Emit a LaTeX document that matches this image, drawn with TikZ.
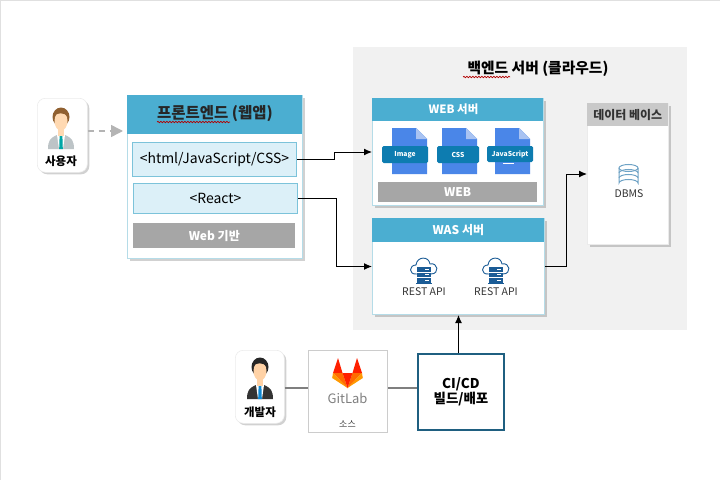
\documentclass[tikz,border=0pt]{standalone}
\usepackage{fontspec}
\setmainfont{Noto Sans CJK KR}
\usetikzlibrary{arrows.meta,shadows,decorations.pathmorphing}
\newcommand{\px}{0.25mm}
\newcommand{\pxfont}[1]{\pgfmathsetmacro\pxsize{#1*0.71}\fontsize{\pxsize}{\pxsize}\selectfont}
\definecolor{panelgray}{HTML}{F1F1F1}
\definecolor{headblue}{HTML}{4BAED1}
\definecolor{cardline}{HTML}{B5DCE8}
\definecolor{paleblue}{HTML}{DCF0F8}
\definecolor{paleline}{HTML}{7CC3DA}
\definecolor{bargray}{HTML}{A6A6A6}
\definecolor{dbhead}{HTML}{C9C9C9}
\definecolor{fileblue}{HTML}{4A86E8}
\definecolor{filefold}{HTML}{A9C3F2}
\definecolor{bandblue}{HTML}{0D7CB0}
\definecolor{serverblue}{HTML}{1B5C96}
\definecolor{dbline}{HTML}{6FA3C6}
\definecolor{citeal}{HTML}{1F5F80}
\definecolor{linegray}{HTML}{7F7F7F}
\definecolor{arrowgray}{HTML}{B4B4B4}
\tikzset{
  softshadow/.style={drop shadow={shadow xshift=2*\px,shadow yshift=-2*\px,fill=black,opacity=0.18}},
  card/.style={draw=cardline,line width=0.25mm,fill=white,softshadow,anchor=north west,inner sep=0},
  headbar/.style={fill=headblue,anchor=north west,inner sep=0,text=white,font=\pxfont{12}\bfseries},
  techbox/.style={draw=paleline,line width=0.25mm,fill=paleblue,anchor=north west,inner sep=0,font=\pxfont{14}},
  graybar/.style={fill=bargray,anchor=north west,inner sep=0,text=white,font=\pxfont{12}\bfseries},
  personcard/.style={draw=black!8,fill=white,rounded corners=8*\px,softshadow,anchor=north west,inner sep=0},
  filename/.style={fill=bandblue,rounded corners=1.5*\px,inner sep=0,text=white,font=\pxfont{6.8}\bfseries},
  plainlabel/.style={inner sep=0,font=\pxfont{10.5},text=black!80},
  linkarrow/.style={line width=1*\px,-{Latex[length=8*\px,width=7*\px]}},
  buildline/.style={draw=linegray,line width=2*\px},
  squiggle/.style={draw=red!70!black,line width=0.7*\px,decorate,decoration={snake,segment length=3*\px,amplitude=0.7*\px}},
  pics/person/.style n args={4}{code={
    \fill[#1] (0,9) ellipse [x radius=8.5,y radius=9.5];
    \fill[#3] (-13,41) .. controls (-13,33) and (-11,30) .. (-4,27) -- (4,27)
      .. controls (11,30) and (13,33) .. (13,41) -- cycle;
    \fill[white] (-4,27) -- (4,27) -- (2,41) -- (-2,41) -- cycle;
    \fill[#2] (-3,20) rectangle (3,28);
    \fill[#4] (-1.4,28) -- (1.4,28) -- (1.8,41) -- (-1.8,41) -- cycle;
    \fill[#2] (0,13) ellipse [x radius=6.5,y radius=9.5];
    \fill[#1] (-7,9) .. controls (-5,4) and (4,4) .. (7,9) .. controls (7,1) and (-7,1) .. (-7,9) -- cycle;
  }},
  pics/cloudserver/.style={code={
    \draw[serverblue,line width=0.9*\px] (-7,16) .. controls (-16,17) and (-15,7) .. (-8,7)
      .. controls (-7,-2) and (5,-2) .. (6,6) .. controls (14,4) and (16,16) .. (7,16);
    \foreach \rowy in {9,14.5,20} {
      \fill[serverblue] (-7,\rowy) rectangle (7,\rowy+4.5);
      \fill[white] (1,\rowy+1.5) rectangle (5,\rowy+2.7);
    }
    \draw[serverblue,line width=0.9*\px] (-8,25.5) -- (8,25.5);
  }},
  pics/fileicon/.style={code={
    \fill[fileblue] (0,0) -- (24,0) -- (35,11) -- (35,46) -- (0,46) -- cycle;
    \fill[filefold] (24,0) -- (35,11) -- (24,11) -- cycle;
  }},
  pics/gitlogo/.style={code={
    \foreach \s in {-1,1} {
      \fill[red!75!orange] (\s*9.5,0) -- (\s*5,15) -- (\s*14.5,15) -- cycle;
      \fill[orange!85!red] (\s*5,15) -- (0,30) -- (\s*14.5,15) -- cycle;
      \fill[orange!80!yellow] (\s*14.5,15) -- (\s*15.3,20) -- (0,30) -- cycle;
    }
    \fill[red!75!orange] (-5,15) -- (5,15) -- (0,30) -- cycle;
  }},
}

\begin{document}
\begin{tikzpicture}[x=\px,y=-\px]
\useasboundingbox (0,0) rectangle (720,480);
\draw[black!12,line width=0.25mm] (0.5,480) -- (0.5,0.5) -- (720,0.5);

% backend panel
\fill[panelgray] (353,47) rectangle (687,330);
\node[inner sep=0,font=\pxfont{14.8}\bfseries] (backendtitle) at (538,69) {백엔드 서버 (클라우드)};
\draw[squiggle] (463,77) -- (510,77);

% user
\node[personcard,minimum width=50*\px,minimum height=74*\px] (usercard) at (37,98) {};
\pic at (61,108) {person={brown!75!black}{orange!30!white}{cyan!10!gray!55}{teal!70!cyan}};
\node[inner sep=0,font=\pxfont{11.5}\bfseries] (userlabel) at (61,161) {사용자};

% frontend
\node[card,minimum width=175*\px,minimum height=163*\px] (frontcard) at (127,95) {};
\node[headbar,minimum width=175*\px,minimum height=39*\px] (fronthead) at (127,95) {};
\node[inner sep=0,font=\pxfont{15.5}\bfseries,text=black!85] (fronttitle) at (215,114) {프론트엔드 (웹앱)};
\draw[squiggle] (157,122) -- (230,122);
\node[techbox,minimum width=164*\px,minimum height=34*\px] (htmlbox) at (132,142) {<html/JavaScript/CSS>};
\node[techbox,minimum width=164*\px,minimum height=30*\px] (reactbox) at (133,183) {<React>};
\node[graybar,minimum width=162*\px,minimum height=25*\px] (webbase) at (133,223) {Web 기반};

% web server
\node[card,minimum width=171*\px,minimum height=107*\px] (webcard) at (372,98) {};
\node[headbar,minimum width=171*\px,minimum height=23*\px] (webhead) at (372,98) {};
\node[inner sep=0,text=white,font=\pxfont{11.5}\bfseries] (webtitle) at (453.5,109.5) {WEB 서버};
\pic at (392,128) {fileicon};
\pic at (442,128) {fileicon};
\pic at (495,128) {fileicon};
\node[filename,minimum width=46*\px,minimum height=17*\px] (imagetag) at (405,154.5) {Image};
\node[filename,minimum width=42*\px,minimum height=17*\px] (csstag) at (458,154.5) {CSS};
\node[filename,minimum width=46*\px,minimum height=16*\px] (jstag) at (510,154) {JavaScript};
\draw[white,line width=0.6*\px] (503,163.5) -- (514,163.5);
\node[graybar,minimum width=159*\px,minimum height=20*\px] (webbar) at (378,182) {WEB};

% was server
\node[card,minimum width=172*\px,minimum height=96*\px] (wascard) at (372,218) {};
\node[headbar,minimum width=172*\px,minimum height=24*\px] (washead) at (372,218) {WAS 서버};
\pic at (424,258) {cloudserver};
\pic at (496,258) {cloudserver};
\node[plainlabel] (restone) at (424,292) {REST API};
\node[plainlabel] (resttwo) at (496,292) {REST API};

% database
\node[card,draw=black!8,minimum width=81*\px,minimum height=141*\px] (dbcard) at (587,103) {};
\node[fill=dbhead,anchor=north west,inner sep=0,minimum width=81*\px,minimum height=23*\px,font=\pxfont{12}\bfseries,text=black!80] (dbhead) at (587,103) {데이터 베이스};
\draw[dbline,line width=1*\px] (619,168) -- (619,183) arc [start angle=180,end angle=360,x radius=9.5,y radius=3.5] -- (638,168);
\draw[dbline,line width=1*\px] (628.5,168) ellipse [x radius=9.5,y radius=3.5];
\draw[dbline,line width=1*\px] (619,173) arc [start angle=180,end angle=360,x radius=9.5,y radius=3.5];
\draw[dbline,line width=1*\px] (619,178) arc [start angle=180,end angle=360,x radius=9.5,y radius=3.5];
\node[plainlabel] (dbmslabel) at (629,194) {DBMS};

% developer and build
\node[personcard,minimum width=49*\px,minimum height=73*\px] (devcard) at (235,350) {};
\pic at (260,358) {person={black!85}{orange!35!white}{black!80}{cyan!70!blue}};
\node[inner sep=0,font=\pxfont{11.5}\bfseries] (devlabel) at (260,412) {개발자};
\node[draw=black!20,line width=0.25mm,fill=white,anchor=north west,inner sep=0,minimum width=79*\px,minimum height=82*\px] (gitbox) at (308,350) {};
\pic at (347.5,358) {gitlogo};
\node[inner sep=0,font=\pxfont{13},text=black!50] (gitlabel) at (347.5,398) {GitLab};
\node[inner sep=0,font=\pxfont{9},text=black!75] (sourcelabel) at (347.5,424) {소스};
\node[draw=citeal,line width=2*\px,fill=white,anchor=north west,inner sep=0,minimum width=86*\px,minimum height=76*\px,align=center,font=\pxfont{13.5}\bfseries] (cibox) at (417,353) {CI/CD\\빌드/배포};

% connectors
\coordinate (usertip) at (123,131);
\coordinate (buildrow) at (300,388);
\draw[arrowgray,line width=1.5*\px,dash pattern=on 6*\px off 5*\px,-{Triangle[length=12*\px,width=12*\px,fill=arrowgray]}] (usercard.east |- usertip) -- (usertip);
\draw[linkarrow] (htmlbox.east) -- ++(37,0) |- (webcard.west);
\draw[linkarrow] (reactbox.east) -- ++(38,0) |- (wascard.west);
\draw[linkarrow] (wascard.east) -- ++(21,0) |- (dbcard.west);
\draw[linkarrow] (wascard.south |- cibox.north) -- (wascard.south);
\draw[buildline] (devcard.east |- buildrow) -- (gitbox.west |- buildrow);
\draw[buildline] (gitbox.east |- buildrow) -- (cibox.west |- buildrow);
\end{tikzpicture}
\end{document}
